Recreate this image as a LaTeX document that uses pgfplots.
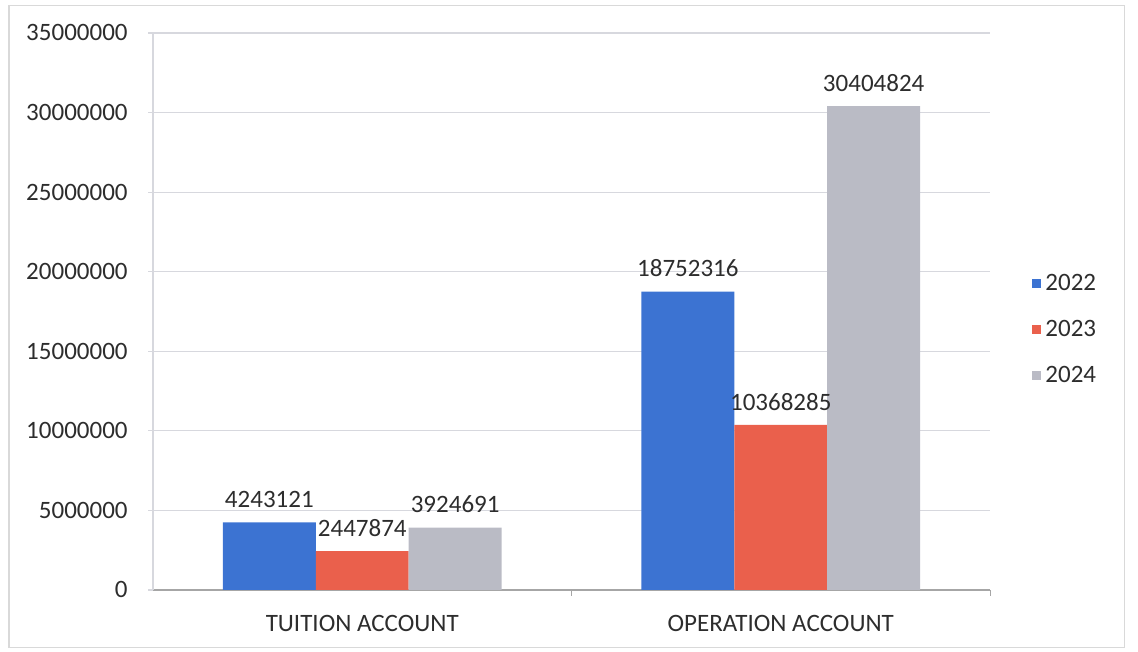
\documentclass[border=0pt]{standalone}
\usepackage{fontspec}
\setmainfont{Carlito}
\usepackage{pgfplots}
\pgfplotsset{compat=1.18}
\definecolor{c22}{RGB}{60,115,210}
\definecolor{c23}{RGB}{234,96,76}
\definecolor{c24}{RGB}{186,187,197}
\definecolor{gridc}{RGB}{215,216,222}
\definecolor{txt}{RGB}{45,45,45}

\begin{document}
\begin{tikzpicture}
\fontsize{12.5}{15}\selectfont
\begin{axis}[
    scale only axis, width=418.5pt, height=278.5pt,
    xmin=-0.5, xmax=1.5, ymin=0, ymax=35000000,
    clip=false,
    ybar, bar width=0.222,
    axis lines*=left,
    axis line style={-, gridc, line width=0.6pt},
    x axis line style={black!35},
    ymajorgrids=true,
    grid style={gridc, line width=0.6pt},
    ytick={0,5000000,10000000,15000000,20000000,25000000,30000000,35000000},
    yticklabels={0,5000000,10000000,15000000,20000000,25000000,30000000,35000000},
    xtick={0,1}, xticklabels={TUITION ACCOUNT, OPERATION ACCOUNT},
    major x tick style={draw=none},
    extra x ticks={0.5,1.5}, extra x tick labels={},
    extra x tick style={major x tick style={draw=black!35}, major tick length=3pt},
    tick align=outside,
    major tick length=2.5pt,
    y tick style={gridc, line width=0.6pt},
    ticklabel style={text=txt, font=\fontsize{12.5}{15}\selectfont},
    yticklabel style={inner sep=0pt, xshift=-10pt},
    xticklabel style={inner sep=0pt, yshift=-10pt},
    scaled y ticks=false,
    legend style={at={(1.05,0.467)}, anchor=west, draw=none, fill=none,
        inner sep=0pt, row sep=9pt, text=txt,
        font=\fontsize{12.5}{15}\selectfont},
    legend cell align=left,
    legend image code/.code={\fill[#1] (0pt,-2.3pt) rectangle (4.6pt,2.3pt);},
    point meta=explicit symbolic,
    nodes near coords,
    nodes near coords style={text=txt, font=\fontsize{12.5}{15}\selectfont, inner sep=1.5pt, yshift=5.5pt},
]
  \addplot[bar shift=-0.222, fill=c22, draw=none]
    coordinates {(0,4243121) [4243121] (1,18752316) [18752316]};
  \addplot[bar shift=0, fill=c23, draw=none]
    coordinates {(0,2447874) [2447874] (1,10368285) [10368285]};
  \addplot[bar shift=0.222, fill=c24, draw=none]
    coordinates {(0,3924691) [3924691] (1,30404824) [30404824]};
  \legend{2022, 2023, 2024}

  % chart frame and page extent
  \draw[black!15, line width=0.6pt] (rel axis cs:-0.172,-0.104) rectangle (rel axis cs:1.161,1.050);
  \path (rel axis cs:-0.1828,-0.1113) rectangle (rel axis cs:1.1768,1.0592);
\end{axis}
\end{tikzpicture}
\end{document}
